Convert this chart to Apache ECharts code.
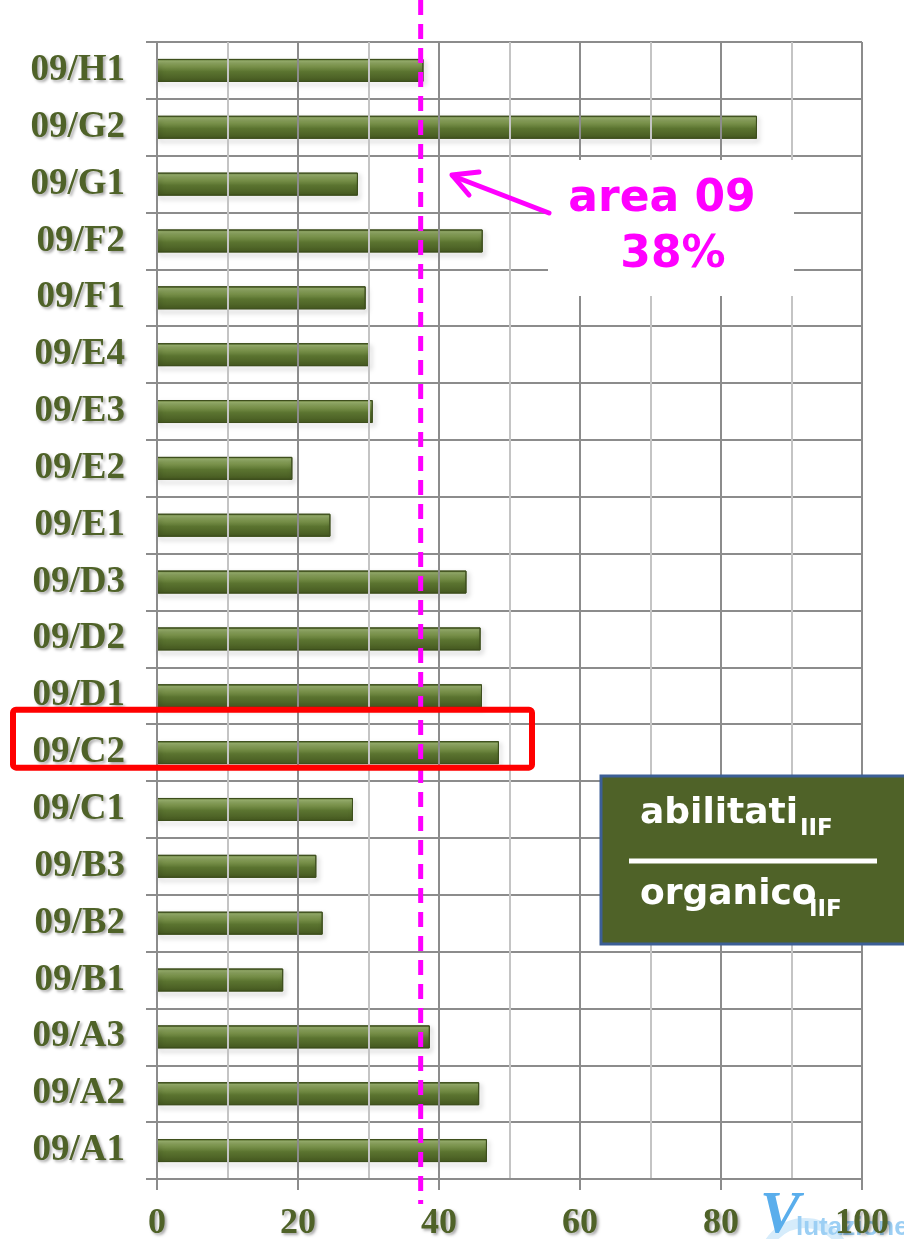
<!DOCTYPE html>
<html><head><meta charset="utf-8">
<script src="https://cdn.jsdelivr.net/npm/echarts@6/dist/echarts.min.js"></script>
<style>html,body{margin:0;padding:0;background:#fff}#c{width:904px;height:1239px}</style>
</head><body><div id="c"></div>
<script>
// categories bottom -> top
const categories = ['09/A1','09/A2','09/A3','09/B1','09/B2','09/B3','09/C1','09/C2','09/D1','09/D2','09/D3','09/E1','09/E2','09/E3','09/E4','09/F1','09/F2','09/G1','09/G2','09/H1'];
const values = [46.8, 45.7, 38.7, 17.9, 23.5, 22.6, 27.8, 48.5, 46.1, 45.9, 43.9, 24.6, 19.2, 30.6, 30.1, 29.6, 46.2, 28.5, 85.1, 37.8];
const areaAverage = 37.4;
const xTicks = [0, 20, 40, 60, 80, 100];
const highlighted = '09/C2';

const chart = echarts.init(document.getElementById('c'), null, {renderer:'canvas'});
const labelGreen = '#4f6228';
const barGrad = new echarts.graphic.LinearGradient(0,0,0,1,[
  {offset:0, color:'#5d7633'},
  {offset:0.1, color:'#9ab26e'},
  {offset:0.3, color:'#7e974f'},
  {offset:0.55, color:'#5b7430'},
  {offset:1, color:'#455820'}
]);
chart.setOption({
  animation:false,
  grid:{left:157, right:42, top:42, bottom:60, containLabel:false, outerBoundsMode:'none'},
  xAxis:{type:'value', min:0, max:100, interval:20, z:20,
    axisLine:{show:true, lineStyle:{color:'#8c8c8c', width:2}},
    axisTick:{show:true, length:11, lineStyle:{color:'#8c8c8c', width:2}},
    axisLabel:{margin:27, fontFamily:'Liberation Serif', fontWeight:'bold', fontSize:36, color:labelGreen,
      textShadowColor:'rgba(0,0,0,0.35)', textShadowBlur:3, textShadowOffsetX:2, textShadowOffsetY:2,
      formatter:v=> xTicks.includes(v)? String(v):''},
    splitLine:{show:true, lineStyle:{color:'#8c8c8c', width:2}},
    minorTick:{show:false, splitNumber:2},
    minorSplitLine:{show:true, lineStyle:{color:'#c4c4c4', width:2}}
  },
  yAxis:{type:'category', data:categories, boundaryGap:true,
    axisLine:{show:true, lineStyle:{color:'#8c8c8c', width:2}},
    axisTick:{show:true, length:11, lineStyle:{color:'#8c8c8c', width:2}},
    axisLabel:{margin:32, fontFamily:'Liberation Serif', fontWeight:'bold', fontSize:37, color:labelGreen,
      textShadowColor:'rgba(0,0,0,0.35)', textShadowBlur:3, textShadowOffsetX:2, textShadowOffsetY:2},
    splitLine:{show:true, lineStyle:{color:'#8c8c8c', width:2}}
  },
  series:[{type:'bar', data:values, barWidth:23,
    itemStyle:{color:barGrad, borderColor:'#3e4f1d', borderWidth:1,
      shadowColor:'rgba(0,0,0,0.35)', shadowBlur:5, shadowOffsetX:2, shadowOffsetY:3}
  }]
});

function txt(x, y, text, size, fill, extra){
  return {type:'text', x:x, y:y, z:63, style:Object.assign({text:text, fontFamily:'DejaVu Sans', fontWeight:'bold', fontSize:size, fill:fill, verticalAlign:'middle'}, extra||{})};
}
function overlay(){
  const xLine = chart.convertToPixel({xAxisIndex:0}, areaAverage);
  const yC2 = chart.convertToPixel({yAxisIndex:0}, highlighted);
  const graphics = [
    // watermark (behind axis labels)
    {type:'group', z:1, children:[
      {type:'circle', shape:{cx:805, cy:1265, r:42}, style:{fill:null, stroke:'#d6ecfb', lineWidth:10}},
      {type:'text', x:760, y:1216, style:{text:'V', fontFamily:'Liberation Serif', fontWeight:'bold', fontStyle:'italic', fontSize:60, fill:'#5aaeec', verticalAlign:'middle'}},
      {type:'text', x:796, y:1228, style:{text:'lutazione', fontFamily:'Liberation Sans', fontWeight:'bold', fontSize:26, fill:'#9ccff4', verticalAlign:'middle'}}
    ]},
    // white label box covering grid
    {type:'rect', shape:{x:548,y:160,width:246,height:136}, style:{fill:'#fff'}, z:50},
    txt(662, 200, 'area 09', 44, '#ff00ff', {align:'center'}),
    txt(673, 256, '38%', 44, '#ff00ff', {align:'center'}),
    // arrow
    {type:'polyline', shape:{points:[[549,213],[453,176]]}, style:{stroke:'#ff00ff', lineWidth:5, lineCap:'round'}, z:51},
    {type:'polyline', shape:{points:[[479,172],[452,175],[469,195]]}, style:{stroke:'#ff00ff', lineWidth:5, lineCap:'round', lineJoin:'round', fill:null}, z:51},
    // dashed average line
    {type:'line', shape:{x1:xLine, y1:0, x2:xLine, y2:1204}, style:{stroke:'#ff00ff', lineWidth:5, lineDash:[15,9]}, z:60},
    // red highlight rectangle
    {type:'rect', shape:{x:13, y:yC2-43, width:519, height:58, r:3}, style:{fill:null, stroke:'#ff0000', lineWidth:6}, z:61},
    // formula box
    {type:'rect', shape:{x:601, y:776, width:310, height:168}, style:{fill:'#4f6228', stroke:'#3c5f96', lineWidth:3}, z:62},
    txt(640, 814, 'abilitati', 36, '#fff'),
    txt(800, 829, 'IIF', 23, '#fff'),
    {type:'line', shape:{x1:629, y1:861, x2:877, y2:861}, style:{stroke:'#fff', lineWidth:5}, z:63},
    txt(640, 895, 'organico', 36, '#fff'),
    txt(809, 910, 'IIF', 23, '#fff')
  ];
  chart.setOption({graphic:graphics});
}
overlay();
</script></body></html>
